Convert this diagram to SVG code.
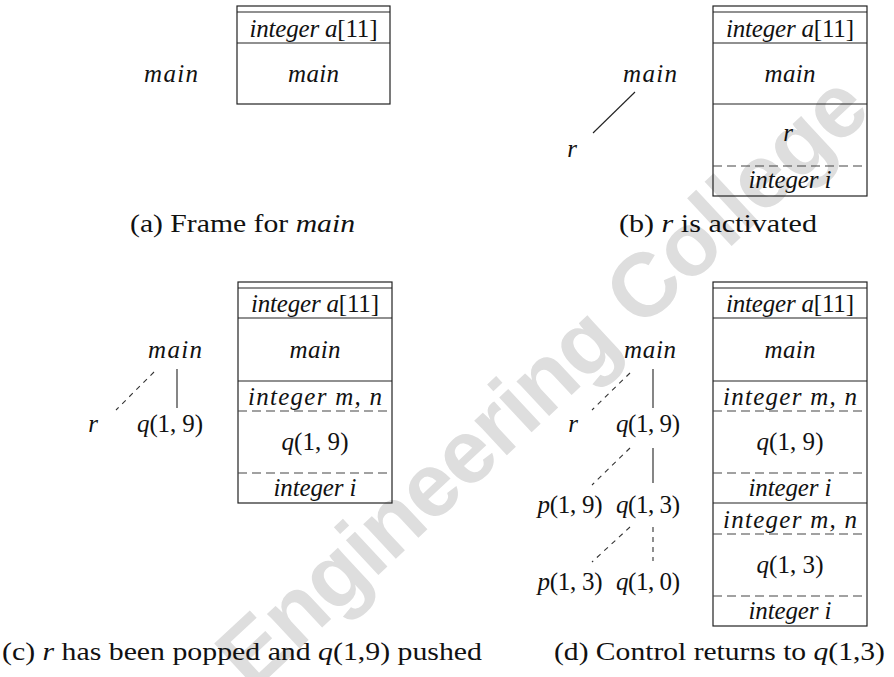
<svg xmlns="http://www.w3.org/2000/svg" width="894" height="677" viewBox="0 0 894 677">
<style>
.ln{stroke:#222;stroke-width:1.2;fill:none}
.bd{stroke:#444;stroke-width:1.2;stroke-dasharray:9 5;fill:none}
.tl{stroke:#222;stroke-width:1.1;fill:none}
.td{stroke:#333;stroke-width:1.1;stroke-dasharray:5 5;fill:none}
.m{font-family:"Liberation Serif","DejaVu Serif",serif;font-style:italic;font-size:25px;fill:#111}
.c{text-anchor:middle}
.u{font-style:normal}
.cap{font-family:"Liberation Serif","DejaVu Serif",serif;font-size:26px;fill:#111}
.i{font-style:italic}
.wm{font-family:"Liberation Sans",Arial,sans-serif;font-weight:bold;font-size:90px;fill:#dedede}
</style>
<rect width="894" height="677" fill="#fff"/>
<text class="wm" transform="translate(252,693) rotate(-43)" textLength="850">Engineering College</text>

<!-- Panel (a) -->
<g id="stack-a">
<rect class="ln" x="237" y="6" width="153" height="98"/>
<line class="ln" x1="237" y1="12" x2="390" y2="12"/>
<line class="ln" x1="237" y1="43" x2="390" y2="43"/>
<text class="m c" x="313.5" y="37" textLength="128">integer a<tspan class="u">[11]</tspan></text>
<text class="m c" x="313.5" y="82" textLength="51">main</text>
</g>
<g id="tree-a-main"><text class="m c" x="171" y="82" textLength="54">main</text></g>
<g id="caption-a"><text class="cap" x="130" y="232" textLength="225" lengthAdjust="spacingAndGlyphs">(a) Frame for <tspan class="i">main</tspan></text></g>

<!-- Panel (b) -->
<g id="stack-b">
<rect class="ln" x="713" y="6" width="154" height="190"/>
<line class="ln" x1="713" y1="12" x2="867" y2="12"/>
<line class="ln" x1="713" y1="43" x2="867" y2="43"/>
<line class="ln" x1="713" y1="104" x2="867" y2="104"/>
<line class="bd" x1="713" y1="166" x2="867" y2="166"/>
<text class="m c" x="790" y="37" textLength="128">integer a<tspan class="u">[11]</tspan></text>
<text class="m c" x="790" y="82" textLength="51">main</text>
<text class="m c" x="788" y="141">r</text>
<text class="m c" x="790" y="188" textLength="83">integer i</text>
</g>
<g id="tree-b-main"><text class="m c" x="650" y="82" textLength="54">main</text></g>
<g id="tree-b-r"><text class="m c" x="572" y="157">r</text></g>
<g id="connectors-b"><line class="tl" x1="635" y1="92" x2="593" y2="133"/></g>
<g id="caption-b"><text class="cap" x="619" y="232" textLength="198" lengthAdjust="spacingAndGlyphs">(b) <tspan class="i">r</tspan> is activated</text></g>

<!-- Panel (c) -->
<g id="stack-c">
<rect class="ln" x="238" y="282" width="154" height="221"/>
<line class="ln" x1="238" y1="288" x2="392" y2="288"/>
<line class="ln" x1="238" y1="318" x2="392" y2="318"/>
<line class="ln" x1="238" y1="381" x2="392" y2="381"/>
<line class="bd" x1="238" y1="411" x2="392" y2="411"/>
<line class="bd" x1="238" y1="473" x2="392" y2="473"/>
<text class="m c" x="315" y="312" textLength="128">integer a<tspan class="u">[11]</tspan></text>
<text class="m c" x="315" y="358" textLength="51">main</text>
<text class="m c" x="315" y="405" textLength="134">integer m, n</text>
<text class="m c" x="315" y="450" textLength="67">q<tspan class="u">(1, 9)</tspan></text>
<text class="m c" x="315" y="496" textLength="83">integer i</text>
</g>
<g id="tree-c-main"><text class="m c" x="175" y="358" textLength="54">main</text></g>
<g id="tree-c-r"><text class="m c" x="93" y="432">r</text></g>
<g id="tree-c-q19"><text class="m c" x="170" y="432" textLength="66">q<tspan class="u">(1, 9)</tspan></text></g>
<g id="connectors-c">
<line class="tl" x1="177" y1="369" x2="177" y2="408"/>
<line class="td" x1="154" y1="372" x2="116" y2="410"/>
</g>
<g id="caption-c"><text class="cap" x="2" y="660" textLength="480" lengthAdjust="spacingAndGlyphs">(c) <tspan class="i">r</tspan> has been popped and <tspan class="i">q</tspan>(1,9) pushed</text></g>

<!-- Panel (d) -->
<g id="stack-d">
<rect class="ln" x="713" y="282" width="154" height="344"/>
<line class="ln" x1="713" y1="288" x2="867" y2="288"/>
<line class="ln" x1="713" y1="318" x2="867" y2="318"/>
<line class="ln" x1="713" y1="381" x2="867" y2="381"/>
<line class="bd" x1="713" y1="411" x2="867" y2="411"/>
<line class="bd" x1="713" y1="473" x2="867" y2="473"/>
<line class="ln" x1="713" y1="503" x2="867" y2="503"/>
<line class="bd" x1="713" y1="534" x2="867" y2="534"/>
<line class="bd" x1="713" y1="596" x2="867" y2="596"/>
<text class="m c" x="790" y="312" textLength="128">integer a<tspan class="u">[11]</tspan></text>
<text class="m c" x="790" y="358" textLength="51">main</text>
<text class="m c" x="790" y="405" textLength="134">integer m, n</text>
<text class="m c" x="790" y="450" textLength="67">q<tspan class="u">(1, 9)</tspan></text>
<text class="m c" x="790" y="496" textLength="83">integer i</text>
<text class="m c" x="790" y="528" textLength="134">integer m, n</text>
<text class="m c" x="790" y="573" textLength="67">q<tspan class="u">(1, 3)</tspan></text>
<text class="m c" x="790" y="619" textLength="83">integer i</text>
</g>
<g id="tree-d-main"><text class="m c" x="650" y="358" textLength="52">main</text></g>
<g id="tree-d-r"><text class="m c" x="573" y="432">r</text></g>
<g id="tree-d-q19"><text class="m c" x="648" y="432" textLength="64">q<tspan class="u">(1, 9)</tspan></text></g>
<g id="tree-d-p19"><text class="m c" x="570" y="513" textLength="65">p<tspan class="u">(1, 9)</tspan></text></g>
<g id="tree-d-q13"><text class="m c" x="648" y="513" textLength="64">q<tspan class="u">(1, 3)</tspan></text></g>
<g id="tree-d-p13"><text class="m c" x="570" y="590" textLength="65">p<tspan class="u">(1, 3)</tspan></text></g>
<g id="tree-d-q10"><text class="m c" x="648" y="590" textLength="64">q<tspan class="u">(1, 0)</tspan></text></g>
<g id="connectors-d">
<line class="tl" x1="653" y1="369" x2="653" y2="408"/>
<line class="td" x1="630" y1="373" x2="592" y2="410"/>
<line class="tl" x1="653" y1="448" x2="653" y2="483"/>
<line class="td" x1="630" y1="448" x2="592" y2="485"/>
<line class="td" x1="653" y1="527" x2="653" y2="561"/>
<line class="td" x1="630" y1="527" x2="592" y2="562"/>
</g>
<g id="caption-d"><text class="cap" x="554" y="660" textLength="331" lengthAdjust="spacingAndGlyphs">(d) Control returns to <tspan class="i">q</tspan>(1,3)</text></g>
</svg>
